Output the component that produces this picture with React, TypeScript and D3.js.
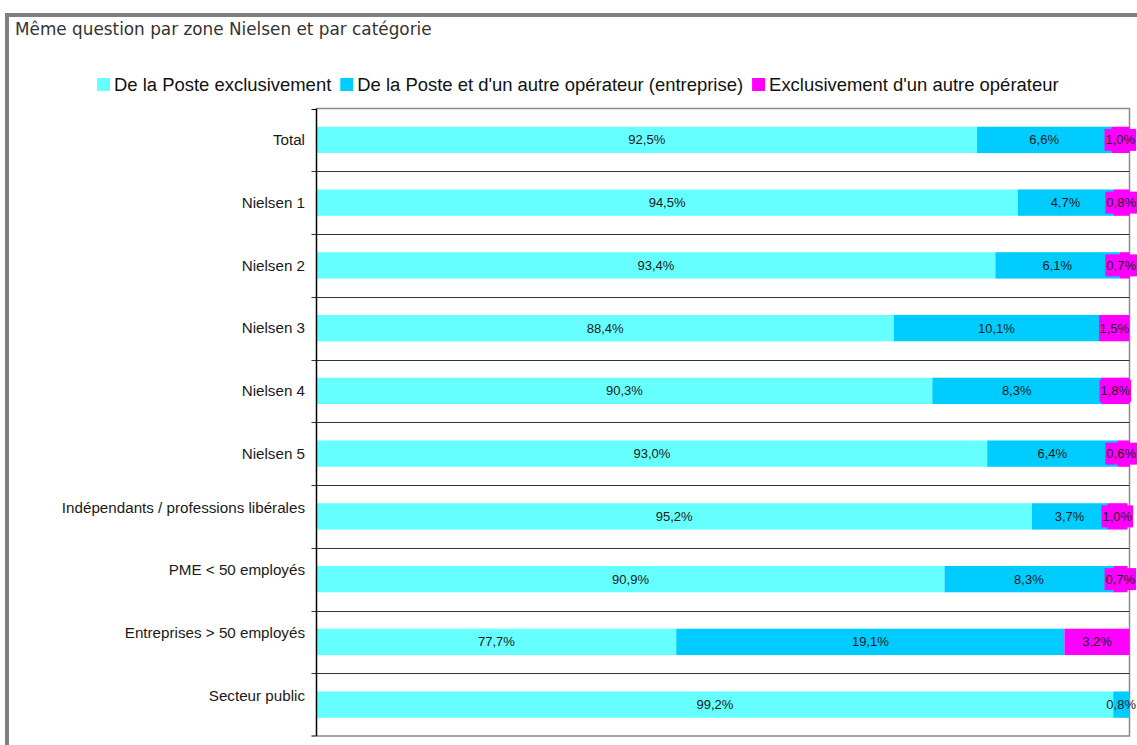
import React, { useEffect, useRef } from "react";
import * as d3 from "d3";

const categories = [
  "Total",
  "Nielsen 1",
  "Nielsen 2",
  "Nielsen 3",
  "Nielsen 4",
  "Nielsen 5",
  "Indépendants / professions libérales",
  "PME < 50 employés",
  "Entreprises > 50 employés",
  "Secteur public",
];
const posteExclusive = [92.5, 94.5, 93.4, 88.4, 90.3, 93.0, 95.2, 90.9, 77.7, 99.2];
const posteEtAutre = [6.6, 4.7, 6.1, 10.1, 8.3, 6.4, 3.7, 8.3, 19.1, 0.8];
const autreExclusive = [1.0, 0.8, 0.7, 1.5, 1.8, 0.6, 1.0, 0.7, 3.2, 0];
const seriesNames = [
  "De la Poste exclusivement",
  "De la Poste et d'un autre opérateur (entreprise)",
  "Exclusivement d'un autre opérateur",
];
const xDomain = [60, 100];
const title = "Même question par zone Nielsen et par catégorie";

const W = 1137;
const H = 745;
const colors = ["#66FFFF", "#00CCFF", "#FF00FF"];
const fmt = (v: number) => v.toFixed(1).replace(".", ",") + "%";

export default function App() {
  const ref = useRef<SVGSVGElement>(null);
  useEffect(() => {
    const svg = d3.select(ref.current);
    svg.selectAll("*").remove();
    const left = 316.5;
    const right = 1129.5;
    const top = 108.5;
    const bottom = 736;

    // outer frame
    svg.append("rect").attr("x", 7).attr("y", 15).attr("width", 1300).attr("height", 900)
      .attr("fill", "none").attr("stroke", "#808080").attr("stroke-width", 4);

    svg.append("text").attr("x", 15).attr("y", 35).text(title)
      .attr("font-family", "'DejaVu Sans', Verdana, sans-serif").attr("font-size", 16.85)
      .attr("fill", "#333");

    // legend
    const lg = svg.append("g");
    let lx = 97;
    seriesNames.forEach((name, i) => {
      lg.append("rect").attr("x", lx).attr("y", 78).attr("width", 13).attr("height", 13)
        .attr("fill", colors[i]);
      const t = lg.append("text").attr("x", lx + 17).attr("y", 91).text(name)
        .attr("font-family", "'Liberation Sans', Arial, sans-serif").attr("font-size", 18.45)
        .attr("fill", "#111");
      const w = (t.node() as SVGTextElement).getComputedTextLength();
      lx = lx + 17 + w + 9;
    });

    const x = d3.scaleLinear().domain(xDomain).range([left, right]).clamp(true);
    const y = d3.scaleBand<string>().domain(categories).range([top, bottom]).paddingInner(0).paddingOuter(0);
    const bh = y.bandwidth() * 0.42;

    // plot border
    svg.append("path")
      .attr("d", `M${left},${top}H${right}V${bottom}H${left}`)
      .attr("fill", "none").attr("stroke", "#8a8a8a").attr("stroke-width", 1.5);

    const series = [posteExclusive, posteEtAutre, autreExclusive];
    const g = svg.append("g");
    categories.forEach((c, i) => {
      let cum = 0;
      const cy = (y(c) as number) + y.bandwidth() / 2;
      series.forEach((s, k) => {
        const v = s[i];
        const x0 = x(cum);
        const x1 = x(cum + v);
        cum += v;
        if (v <= 0) return;
        g.append("rect").attr("x", x0).attr("y", cy - bh / 2).attr("width", Math.max(0, x1 - x0))
          .attr("height", bh).attr("fill", colors[k]);
      });
      cum = 0;
      series.forEach((s, k) => {
        const v = s[i];
        const x0 = x(cum);
        const x1 = x(cum + v);
        cum += v;
        if (v <= 0) return;
        let cx = (x0 + x1) / 2;
        const t = g.append("text").attr("x", cx).attr("y", cy).attr("dy", "0.35em")
          .attr("text-anchor", "middle").text(fmt(v))
          .attr("font-family", "'Liberation Sans', Arial, sans-serif").attr("font-size", 13)
          .attr("fill", "#1a1a1a");
        const w = (t.node() as SVGTextElement).getComputedTextLength();
        if (cx + w / 2 > W - 1) {
          cx = W - 1 - w / 2;
          t.attr("x", cx);
        }
        if (k === 2 && w > x1 - x0) {
          g.insert("rect", () => t.node() as any)
            .attr("x", cx - w / 2 - 1).attr("y", cy - 11).attr("width", w + 2).attr("height", 22)
            .attr("fill", colors[2]);
        }
      });
    });

    // separators and ticks
    categories.forEach((c, i) => {
      const yy = Math.round(y(c) as number) + 0.5;
      if (i > 0) {
        svg.append("line").attr("x1", left - 5).attr("x2", right).attr("y1", yy).attr("y2", yy)
          .attr("stroke", "#333").attr("stroke-width", 1);
      } else {
        svg.append("line").attr("x1", left - 5).attr("x2", left).attr("y1", yy).attr("y2", yy)
          .attr("stroke", "#000");
      }
    });
    svg.append("line").attr("x1", left - 5).attr("x2", left).attr("y1", bottom).attr("y2", bottom)
      .attr("stroke", "#000");
    svg.append("line").attr("x1", left).attr("x2", left).attr("y1", top).attr("y2", bottom)
      .attr("stroke", "#000").attr("stroke-width", 1.5);

    // category labels
    categories.forEach((c, i) => {
      const cy = (y(c) as number) + y.bandwidth() / 2 - (i >= 6 ? 9 : 0);
      svg.append("text").attr("x", 305).attr("y", cy).attr("dy", "0.35em")
        .attr("text-anchor", "end").text(c)
        .attr("font-family", "'Liberation Sans', Arial, sans-serif").attr("font-size", 15.2)
        .attr("fill", "#1a1a1a");
    });
  }, []);
  return (
    <svg ref={ref} width={W} height={H}
      style={{ position: "absolute", left: 0, top: 0, background: "#fff" }} />
  );
}
